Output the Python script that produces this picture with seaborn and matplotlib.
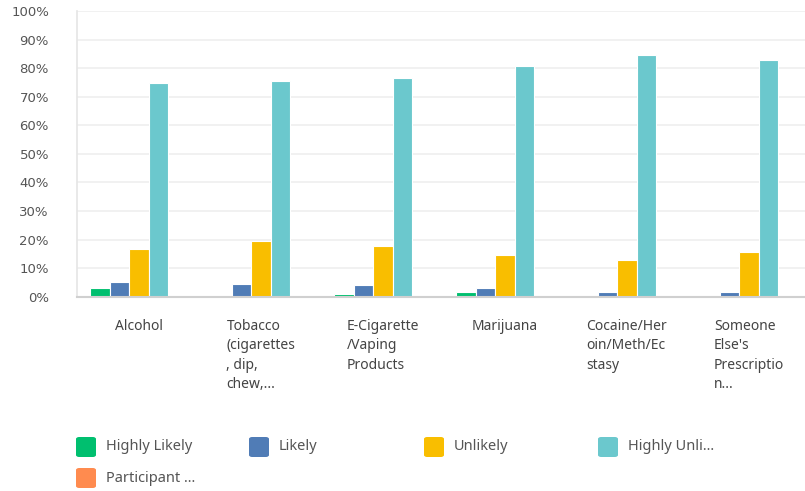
import pandas as pd
import seaborn as sns
import matplotlib.pyplot as plt
from matplotlib.patches import FancyBboxPatch
from matplotlib.ticker import PercentFormatter

# answers per substance, in percent of respondents
categories = [
    "Alcohol",
    "Tobacco\n(cigarettes\n, dip,\nchew,...",
    "E-Cigarette\n/Vaping\nProducts",
    "Marijuana",
    "Cocaine/Her\noin/Meth/Ec\nstasy",
    "Someone\nElse's\nPrescriptio\nn...",
]
series = ["Highly Likely", "Likely", "Unlikely", "Highly Unli...", "Participant ..."]
highly_likely = [3.0, 0.0, 1.0, 1.5, 0.0, 0.0]
likely = [5.0, 4.5, 4.0, 3.0, 1.5, 1.5]
unlikely = [16.8, 19.4, 17.7, 14.5, 13.0, 15.7]
highly_unlikely = [74.9, 75.6, 76.4, 80.6, 84.7, 82.7]
participant = [0.0, 0.0, 0.0, 0.0, 0.0, 0.0]
colors = ["#00bf6f", "#507cb6", "#f9be00", "#6bc8cd", "#ff8b4f"]

values = [highly_likely, likely, unlikely, highly_unlikely, participant]
rows = []
for name, vals in zip(series, values):
    for cat, v in zip(categories, vals):
        rows.append({"category": cat, "answer": name, "pct": v})
df = pd.DataFrame(rows)

sns.set_theme(style="white")
plt.rcParams["font.family"] = ["Noto Sans", "DejaVu Sans"]

fig = plt.figure(figsize=(8.05, 4.91), dpi=100)
ax = fig.add_axes([0.0953, 0.3957, 0.9047, 0.5819])

sns.barplot(
    data=df, x="category", y="pct", hue="answer",
    order=categories, hue_order=series, palette=colors, saturation=1,
    width=0.8, edgecolor="white", linewidth=0.8,
    legend=False, ax=ax,
)

ax.set_xlim(-0.51, 5.46)
ax.set_ylim(0, 100)
ax.set_yticks(range(0, 101, 10))
ax.yaxis.set_major_formatter(PercentFormatter(decimals=0))
ax.set_xlabel("")
ax.set_ylabel("")
ax.grid(axis="y", color="#efefef", linewidth=1.2)
ax.set_axisbelow(True)

for side in ["top", "right"]:
    ax.spines[side].set_visible(False)
ax.spines["left"].set_color("#e6e6e6")
ax.spines["bottom"].set_color("#d0d0d0")
ax.spines["bottom"].set_linewidth(1.5)

ax.tick_params(axis="y", length=0, pad=20, labelsize=10, labelcolor="#555555")
ax.tick_params(axis="x", length=0, pad=16, labelsize=10, labelcolor="#444444")
for lbl in ax.get_yticklabels():
    lbl.set_fontfamily(["DejaVu Sans"])
    lbl.set_fontsize(9.5)
for lbl in ax.get_xticklabels():
    lbl.set_horizontalalignment("center")
    lbl.set_multialignment("left")
    lbl.set_verticalalignment("top")
    lbl.set_linespacing(1.4)

# legend laid out on a fixed grid like the survey tool does
col_x = [75, 248, 423, 597]
row_y = [447, 478]
for i, (name, c) in enumerate(zip(series, colors)):
    x0 = col_x[i % 4]
    yc = row_y[i // 4]
    box = FancyBboxPatch(
        ((x0 + 1) / 805, 1 - (yc + 10) / 491), 20 / 805, 20 / 491,
        boxstyle="round,pad=0,rounding_size=0.004",
        transform=fig.transFigure, facecolor=c, edgecolor="none",
    )
    fig.patches.append(box)
    fig.text((x0 + 31) / 805, 1 - yc / 491, name, ha="left", va="center",
             fontsize=10.5, color="#555555")

fig.savefig("out.png", dpi=100)
